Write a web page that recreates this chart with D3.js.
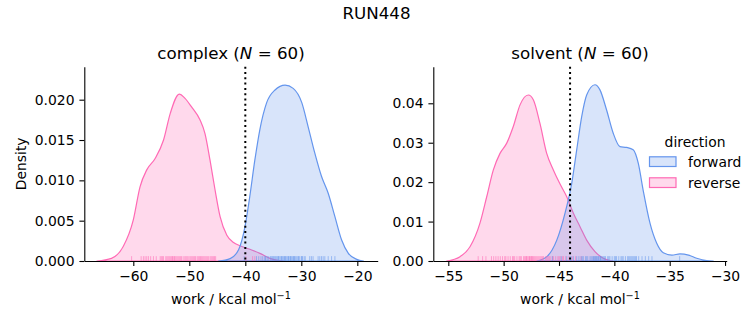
<!DOCTYPE html>
<html><head><meta charset="utf-8">
<script src="https://cdn.jsdelivr.net/npm/d3@7"></script>
<style>
body{margin:0;background:#fff}
svg{display:block}
text{font-family:"DejaVu Sans",sans-serif;fill:#000}
</style>
</head><body>
<svg id="c" width="753" height="325"></svg>
<script>
// ---------- data ----------
const figureTitle = "RUN448";
const directions = ["forward", "reverse"];
const directionColors = ["#6495ED", "#FF69B4"];
const phases = ["complex", "solvent"];
const sampleCounts = [60, 60];
const guideValues = [-40, -44];

const complexXTicks = [-60, -50, -40, -30, -20];
const complexYTicks = [0, 0.005, 0.010, 0.015, 0.020];
const solventXTicks = [-55, -50, -45, -40, -35, -30];
const solventYTicks = [0, 0.01, 0.02, 0.03, 0.04];

// KDE curves (work, density)
const complexForwardWork = [-44.8, -42.7, -41.2, -40.05, -39.2, -38.3, -37.4, -36.2, -34.7, -32.9, -31.45, -29.9, -28.8, -27.6, -26.4, -25.2, -24.0, -22.8, -21.6, -20.1, -18.9];
const complexForwardDensity = [0, 0.0003, 0.0014, 0.0043, 0.0080, 0.0125, 0.0163, 0.0196, 0.0212, 0.0218, 0.0214, 0.0196, 0.0167, 0.0134, 0.0105, 0.0084, 0.0055, 0.0026, 0.00095, 0.0002, 0];
const complexReverseWork = [-66.5, -63.9, -61.8, -60.0, -58.8, -57.6, -56.1, -54.6, -53.4, -51.8, -50.8, -49.6, -48.1, -47.2, -46.3, -45.4, -44.5, -43.3, -42.1, -40.95, -39.2, -37.4, -35.6, -34.4, -33.2];
const complexReverseDensity = [0, 0.00033, 0.0018, 0.0051, 0.0092, 0.0113, 0.0127, 0.0150, 0.0183, 0.0207, 0.0202, 0.0191, 0.0175, 0.0158, 0.0125, 0.0088, 0.0055, 0.0032, 0.0023, 0.0019, 0.00145, 0.00095, 0.00033, 0.0001, 0];
const solventForwardWork = [-47.0, -46.1, -45.2, -44.46, -43.85, -43.4, -42.95, -42.5, -41.75, -41.3, -40.7, -40.1, -39.49, -38.9, -38.3, -37.84, -37.4, -36.78, -36.17, -35.58, -34.8, -34.07, -33.3, -32.56, -31.66, -31.06];
const solventForwardDensity = [0, 0.0011, 0.0053, 0.0121, 0.0197, 0.0282, 0.0366, 0.0421, 0.0447, 0.0434, 0.0383, 0.0324, 0.0290, 0.0288, 0.0282, 0.0248, 0.0180, 0.0096, 0.0045, 0.0021, 0.0015, 0.0018, 0.0015, 0.0007, 0.0001, 0];
const solventReverseWork = [-55.15, -53.94, -53.04, -52.14, -51.53, -50.93, -50.33, -49.72, -49.13, -48.52, -47.77, -47.32, -46.72, -46.11, -45.51, -44.94, -44.3, -43.7, -43.1, -42.5, -41.75, -41.0, -40.1];
const solventReverseDensity = [0, 0.0011, 0.0036, 0.0096, 0.0163, 0.0231, 0.0273, 0.0299, 0.0341, 0.0396, 0.0421, 0.0409, 0.0349, 0.0273, 0.0231, 0.0197, 0.0163, 0.0121, 0.0087, 0.0053, 0.0024, 0.0007, 0];

// rug samples (work values, estimated)
const complexForwardRug = [-40.2, -38.0, -37.6, -37.2, -36.9, -36.6, -36.4, -36.3, -36.0, -35.8, -35.5, -35.3, -35.1, -35.0, -34.8, -34.6, -34.4, -34.2, -34.1, -34.0, -33.8, -33.6, -33.5, -33.4, -33.2, -33.0, -32.9, -32.8, -32.6, -32.4, -32.3, -32.2, -32.0, -31.9, -31.8, -31.6, -31.4, -31.3, -31.2, -31.0, -30.8, -30.6, -30.5, -30.3, -30.0, -29.9, -29.8, -29.5, -29.3, -28.5, -28.2, -27.9, -27.0, -26.7, -26.4, -26.1, -25.8, -25.2, -24.6, -24.0];
const complexReverseRug = [-60.3, -58.6, -58.2, -57.9, -57.6, -57.3, -56.9, -56.4, -55.9, -55.2, -55.0, -54.8, -54.6, -54.2, -54.0, -53.8, -53.6, -53.4, -53.2, -53.0, -52.9, -52.7, -52.6, -52.4, -52.2, -52.0, -51.8, -51.6, -51.4, -51.1, -50.8, -50.6, -50.4, -50.2, -49.9, -49.7, -49.5, -49.3, -49.1, -48.9, -48.6, -48.4, -48.2, -48.0, -47.8, -47.6, -47.4, -47.2, -47.0, -46.8, -46.6, -46.3, -46.1, -45.9, -45.7, -45.5, -45.3, -39.9, -38.7, -38.3];
const solventForwardRug = [-45.6, -44.8, -44.3, -44.0, -43.9, -43.7, -43.4, -43.2, -43.0, -42.9, -42.8, -42.6, -42.5, -42.4, -42.2, -42.1, -42.0, -41.9, -41.85, -41.8, -41.7, -41.65, -41.6, -41.5, -41.45, -41.4, -41.3, -41.25, -41.2, -41.1, -41.0, -40.9, -40.8, -40.6, -40.5, -40.4, -40.2, -40.0, -39.9, -39.8, -39.6, -39.4, -39.3, -39.2, -39.0, -38.8, -38.7, -38.6, -38.5, -38.4, -38.3, -38.2, -38.1, -38.0, -37.8, -37.5, -37.2, -36.9, -36.6, -34.1];
const solventReverseRug = [-52.3, -51.9, -51.6, -51.1, -50.9, -50.7, -50.5, -50.3, -50.1, -49.9, -49.8, -49.6, -49.4, -49.2, -49.1, -49.0, -48.8, -48.6, -48.5, -48.4, -48.2, -48.1, -48.0, -47.95, -47.9, -47.8, -47.7, -47.65, -47.6, -47.5, -47.45, -47.4, -47.3, -47.2, -47.1, -47.0, -46.9, -46.8, -46.7, -46.6, -46.5, -46.4, -46.2, -46.1, -46.0, -45.9, -45.8, -45.6, -45.5, -45.3, -45.1, -45.0, -44.9, -44.7, -44.6, -44.4, -44.1, -43.8, -43.5, -43.0];

// ---------- layout ----------
const svg = d3.select("#c");
const axTop = 66.7, axBottom = 261, axW = 293.4;
const fs = 13.9;

const panels = [
  {phase: phases[0], n: sampleCounts[0], left: 84.3, xDomain: [-68.75, -16.36], yDomain: [0, 0.02409],
   xTicks: complexXTicks, yTicks: complexYTicks, yFmt: ".3f", guide: guideValues[0],
   curves: [[complexForwardWork, complexForwardDensity], [complexReverseWork, complexReverseDensity]],
   rugs: [complexForwardRug, complexReverseRug], ylabel: true},
  {phase: phases[1], n: sampleCounts[1], left: 433.3, xDomain: [-56.355, -29.85], yDomain: [0, 0.04928],
   xTicks: solventXTicks, yTicks: solventYTicks, yFmt: ".2f", guide: guideValues[1],
   curves: [[solventForwardWork, solventForwardDensity], [solventReverseWork, solventReverseDensity]],
   rugs: [solventForwardRug, solventReverseRug], ylabel: false}
];

svg.append("text").attr("x", 376.5).attr("y", 19).attr("text-anchor", "middle")
  .style("font-size", "16.7px").text(figureTitle);

panels.forEach(p => {
  const x = d3.scaleLinear().domain(p.xDomain).range([p.left, p.left + axW]);
  const y = d3.scaleLinear().domain(p.yDomain).range([axBottom, axTop]);
  const g = svg.append("g");

  const area = d3.area().x(d => x(d[0])).y0(y(0)).y1(d => y(d[1])).curve(d3.curveMonotoneX);
  // seaborn draws hue levels in reverse order
  [1, 0].forEach(i => {
    const pts = p.curves[i][0].map((w, k) => [w, p.curves[i][1][k]]);
    g.append("path").attr("d", area(pts))
      .attr("fill", directionColors[i]).attr("fill-opacity", 0.25)
      .attr("stroke", directionColors[i]).attr("stroke-width", 1.2).attr("stroke-linejoin", "round");
  });

  // rugs
  const rugH = 0.025 * (axBottom - axTop);
  [1, 0].forEach(i => {
    g.append("g").selectAll("line").data(p.rugs[i]).join("line")
      .attr("x1", d => x(d)).attr("x2", d => x(d))
      .attr("y1", axBottom).attr("y2", axBottom - rugH)
      .attr("stroke", directionColors[i]).attr("stroke-opacity", 0.55).attr("stroke-width", 1);
  });

  // guide line
  g.append("line").attr("x1", x(p.guide)).attr("x2", x(p.guide))
    .attr("y1", axTop).attr("y2", axBottom)
    .attr("stroke", "#000").attr("stroke-width", 2).attr("stroke-dasharray", "2,3.3");

  // axes
  const xa = g.append("g").attr("transform", `translate(0,${axBottom})`)
    .call(d3.axisBottom(x).tickValues(p.xTicks).tickFormat(d3.format("d")).tickSize(4.9).tickPadding(5.6).tickSizeOuter(0));
  const ya = g.append("g").attr("transform", `translate(${p.left},0)`)
    .call(d3.axisLeft(y).tickValues(p.yTicks).tickFormat(d3.format(p.yFmt)).tickSize(4.9).tickPadding(4.9).tickSizeOuter(0));
  [xa, ya].forEach(a => {
    a.selectAll("path.domain").attr("stroke", "#000").attr("stroke-width", 1.1);
    a.selectAll(".tick line").attr("stroke", "#000").attr("stroke-width", 1.1);
    a.selectAll("text").attr("fill", "#000").style("font-size", fs + "px").style("font-family", '"DejaVu Sans",sans-serif');
  });

  // title
  const cx = p.left + axW / 2;
  const t = g.append("text").attr("x", cx).attr("y", 58.7).attr("text-anchor", "middle").style("font-size", "16.7px");
  t.append("tspan").text(p.phase + " (");
  t.append("tspan").style("font-style", "italic").text("N");
  t.append("tspan").text(" = " + p.n + ")");

  // x label
  const xl = g.append("text").attr("x", cx).attr("y", 304).attr("text-anchor", "middle").style("font-size", fs + "px");
  xl.append("tspan").text("work / kcal mol");
  xl.append("tspan").attr("dy", -5.5).style("font-size", "9.7px").text("\u22121");

  if (p.ylabel) {
    g.append("text").attr("transform", `translate(26,${(axTop + axBottom) / 2}) rotate(-90)`)
      .attr("text-anchor", "middle").style("font-size", fs + "px").text("Density");
  }
});

// legend
const lg = svg.append("g");
lg.append("text").attr("x", 695).attr("y", 146.5).attr("text-anchor", "middle").style("font-size", fs + "px").text("direction");
directions.forEach((d, i) => {
  const yy = 156.8 + i * 21;
  lg.append("rect").attr("x", 649.5).attr("y", yy).attr("width", 26.5).attr("height", 9.7)
    .attr("fill", directionColors[i]).attr("fill-opacity", 0.25)
    .attr("stroke", directionColors[i]).attr("stroke-width", 1.2);
  lg.append("text").attr("x", 688).attr("y", yy + 9.8).style("font-size", fs + "px").text(d);
});
</script>
</body></html>
